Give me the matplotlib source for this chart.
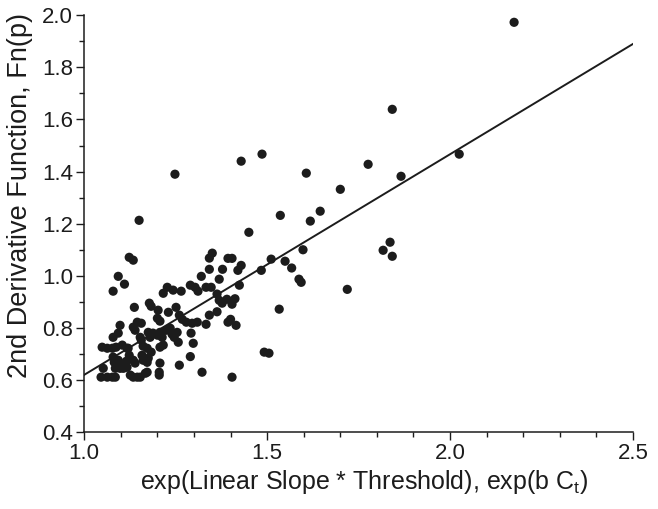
import matplotlib
matplotlib.use("Agg")
import matplotlib.pyplot as plt
from matplotlib.ticker import MultipleLocator

plt.rcParams['font.family'] = ['Liberation Sans', 'DejaVu Sans']

# points (x, y)
x_vals = [
    1.046, 1.063, 1.077, 1.085, 1.052, 1.085,
    1.049, 1.063, 1.077, 1.087, 1.079, 1.082, 1.093,
    1.079, 1.093, 1.098, 1.079, 1.093, 1.110, 1.104, 1.117,
    1.104, 1.115, 1.098, 1.107, 1.117,
    1.120, 1.123, 1.134, 1.139,
    1.126, 1.134, 1.145, 1.153,
    1.134, 1.145, 1.156, 1.139,
    1.153, 1.156, 1.161,
    1.137, 1.123, 1.134, 1.150,
    1.158, 1.161,
    1.167, 1.172, 1.172, 1.175,
    1.175, 1.180, 1.188,
    1.172, 1.183,
    1.178, 1.183, 1.202,
    1.200, 1.207, 1.213,
    1.207, 1.216,
    1.207, 1.205, 1.205,
    1.200, 1.207,
    1.216, 1.227,
    1.224, 1.235, 1.240, 1.246, 1.254,
    1.243, 1.265,
    1.251, 1.230,
    1.260, 1.268, 1.279,
    1.257, 1.260, 1.248,
    1.295, 1.309,
    1.292, 1.298, 1.290, 1.322,
    1.290, 1.303, 1.311,
    1.320, 1.333, 1.347,
    1.342, 1.333, 1.342,
    1.350, 1.342,
    1.363, 1.369, 1.377, 1.390, 1.404, 1.412,
    1.363, 1.369, 1.378,
    1.393, 1.404, 1.420, 1.429,
    1.393, 1.400, 1.415,
    1.404, 1.424, 1.429,
    1.450, 1.486, 1.484, 1.492, 1.505, 1.511, 1.533, 1.536,
    1.549, 1.567, 1.587, 1.593, 1.598, 1.607, 1.618, 1.645,
    1.700, 1.719, 1.776, 1.817, 1.836, 1.842, 1.842, 1.866,
    2.025, 2.175,
]
y_vals = [
    0.611, 0.611, 0.611, 0.611, 0.645, 0.645,
    0.726, 0.722, 0.722, 0.726, 0.688, 0.668, 0.676,
    0.764, 0.780, 0.810, 0.941, 0.998, 0.968, 0.734, 0.722,
    0.661, 0.672, 0.645, 0.645, 0.649,
    0.722, 0.695, 0.676, 0.665,
    0.619, 0.611, 0.611, 0.611,
    0.803, 0.822, 0.818, 0.791,
    0.764, 0.753, 0.730,
    0.879, 1.071, 1.060, 1.213,
    0.695, 0.676,
    0.626, 0.630, 0.668, 0.684,
    0.783, 0.764, 0.780,
    0.722, 0.707,
    0.895, 0.883, 0.868,
    0.772, 0.783, 0.764,
    0.726, 0.734,
    0.665, 0.630, 0.619,
    0.837, 0.826,
    0.933, 0.956,
    0.791, 0.799, 0.776, 0.764, 0.783,
    0.945, 0.941,
    0.879, 0.860,
    0.849, 0.833, 0.822,
    0.745, 0.657, 1.390,
    0.818, 0.822,
    0.780, 0.741, 0.690, 0.630,
    0.964, 0.956, 0.941,
    0.998, 0.956, 0.956,
    1.025, 0.814, 0.849,
    1.087, 1.068,
    0.930, 0.906, 0.895, 0.910, 0.891, 0.912,
    0.862, 0.987, 1.025,
    1.067, 1.067, 1.021, 1.040,
    0.822, 0.833, 0.810,
    0.611, 0.964, 1.440,
    1.167, 1.467, 1.021, 0.707, 0.703, 1.064, 0.872, 1.232,
    1.056, 1.030, 0.987, 0.975, 1.100, 1.394, 1.210, 1.248,
    1.332, 0.948, 1.428, 1.098, 1.129, 1.075, 1.639, 1.382,
    1.467, 1.973,
]

# regression line end points
line_x = [1.0, 2.5]
line_y = [0.62, 1.89]

ink = '#1c1c1c'

fig = plt.figure(figsize=(6.58, 5.09), dpi=100)
ax = fig.add_axes([0.128, 0.151, 0.834, 0.819])

ax.scatter(x_vals, y_vals, s=44, color=ink, edgecolors='none', zorder=3)
ax.plot(line_x, line_y, color=ink, lw=1.4, zorder=2)

ax.set_xlim(1.0, 2.5)
ax.set_ylim(0.4, 2.0)
ax.xaxis.set_major_locator(MultipleLocator(0.5))
ax.xaxis.set_minor_locator(MultipleLocator(0.1))
ax.yaxis.set_major_locator(MultipleLocator(0.2))
ax.yaxis.set_minor_locator(MultipleLocator(0.1))
ax.xaxis.set_major_formatter(plt.FormatStrFormatter('%.1f'))
ax.yaxis.set_major_formatter(plt.FormatStrFormatter('%.1f'))

for side in ['top', 'right']:
    ax.spines[side].set_visible(False)
for side in ['left', 'bottom']:
    ax.spines[side].set_linewidth(1.1)
    ax.spines[side].set_color(ink)

ax.tick_params(which='major', direction='out', length=6, width=1.0,
               color=ink, labelsize=16, labelcolor=ink, pad=2)
ax.tick_params(which='minor', direction='out', length=3.5, width=1.0, color=ink)

ax.set_xlabel('exp(Linear Slope * Threshold), exp(b C$_\\mathregular{t}$)',
              fontsize=18, color=ink)
ax.xaxis.set_label_coords(0.51, -0.086)
ax.set_ylabel('2nd Derivative Function, Fn(p)', fontsize=19.5, color=ink)
ax.yaxis.set_label_coords(-0.094, 0.568)

fig.savefig('out.png', dpi=100)
